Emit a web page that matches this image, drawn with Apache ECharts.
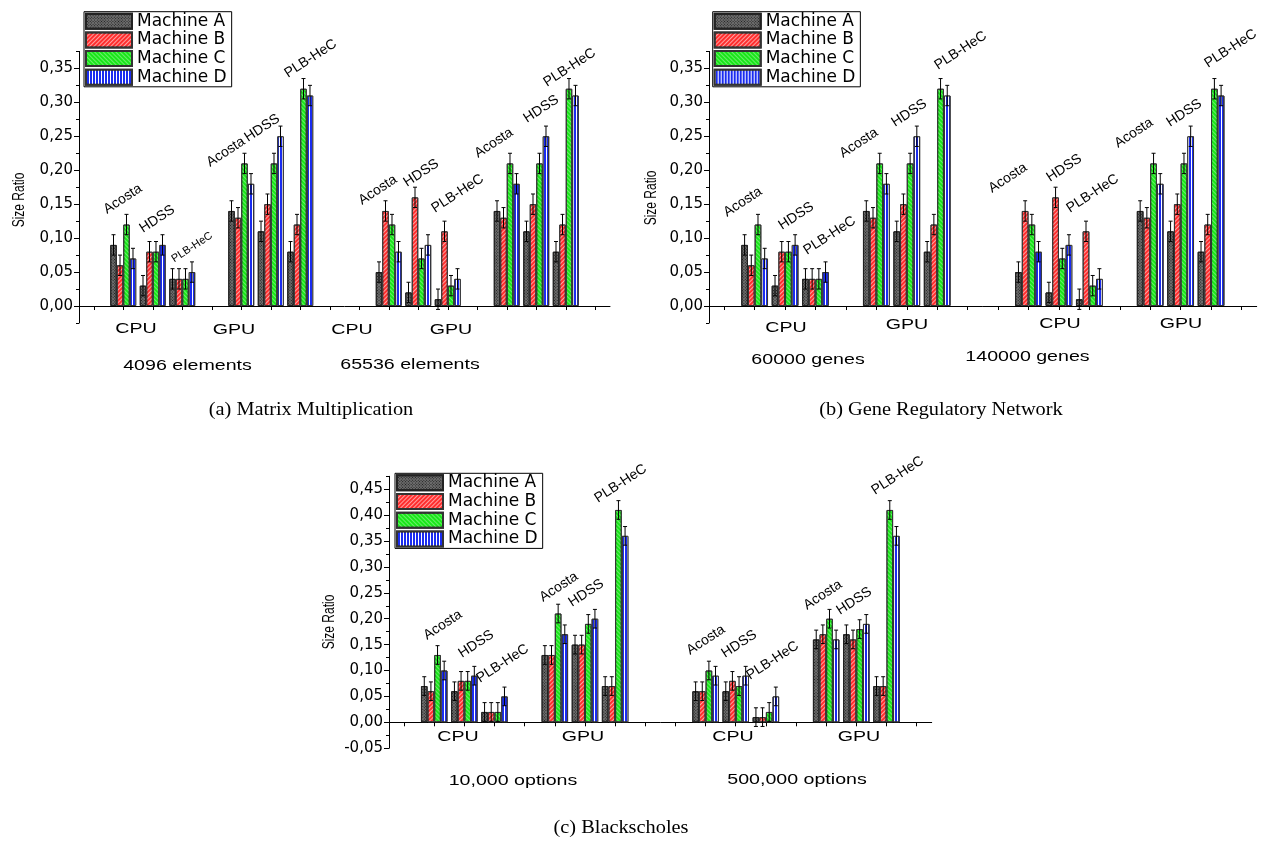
<!DOCTYPE html>
<html><head><meta charset="utf-8">
<script src="https://cdn.jsdelivr.net/npm/echarts@6/dist/echarts.min.js"></script>
<style>html,body{margin:0;padding:0;background:#fff}#c{width:1263px;height:844px}</style>
</head><body><div id="c"></div>
<script>
// ---------------- DATA ----------------
const machines = ['Machine A', 'Machine B', 'Machine C', 'Machine D'];
const algorithms = ['Acosta', 'HDSS', 'PLB-HeC'];
const devices = ['CPU', 'GPU'];

// 18 category slots per chart; groups sit at slots 1-3, 5-7, 10-12, 14-16
const slotsMM = ['g0', '4096 CPU Acosta', '4096 CPU HDSS', '4096 CPU PLB-HeC', 'g4', '4096 GPU Acosta', '4096 GPU HDSS', '4096 GPU PLB-HeC', 'g8', 'g9',
  '65536 CPU Acosta', '65536 CPU HDSS', '65536 CPU PLB-HeC', 'g13', '65536 GPU Acosta', '65536 GPU HDSS', '65536 GPU PLB-HeC', 'g17'];
const slotsGRN = ['g0', '60000 CPU Acosta', '60000 CPU HDSS', '60000 CPU PLB-HeC', 'g4', '60000 GPU Acosta', '60000 GPU HDSS', '60000 GPU PLB-HeC', 'g8', 'g9',
  '140000 CPU Acosta', '140000 CPU HDSS', '140000 CPU PLB-HeC', 'g13', '140000 GPU Acosta', '140000 GPU HDSS', '140000 GPU PLB-HeC', 'g17'];
const slotsBS = ['g0', '10000 CPU Acosta', '10000 CPU HDSS', '10000 CPU PLB-HeC', 'g4', '10000 GPU Acosta', '10000 GPU HDSS', '10000 GPU PLB-HeC', 'g8', 'g9',
  '500000 CPU Acosta', '500000 CPU HDSS', '500000 CPU PLB-HeC', 'g13', '500000 GPU Acosta', '500000 GPU HDSS', '500000 GPU PLB-HeC', 'g17'];

// (a) Matrix Multiplication
const mmA = [null, 0.09, 0.03, 0.04, null, 0.14, 0.11, 0.08, null, null, 0.05, 0.02, 0.01, null, 0.14, 0.11, 0.08, null];
const mmB = [null, 0.06, 0.08, 0.04, null, 0.13, 0.15, 0.12, null, null, 0.14, 0.16, 0.11, null, 0.13, 0.15, 0.12, null];
const mmC = [null, 0.12, 0.08, 0.04, null, 0.21, 0.21, 0.32, null, null, 0.12, 0.07, 0.03, null, 0.21, 0.21, 0.32, null];
const mmD = [null, 0.07, 0.09, 0.05, null, 0.18, 0.25, 0.31, null, null, 0.08, 0.09, 0.04, null, 0.18, 0.25, 0.31, null];
const errMM = 0.015;

// (b) Gene Regulatory Network
const grnA = [null, 0.09, 0.03, 0.04, null, 0.14, 0.11, 0.08, null, null, 0.05, 0.02, 0.01, null, 0.14, 0.11, 0.08, null];
const grnB = [null, 0.06, 0.08, 0.04, null, 0.13, 0.15, 0.12, null, null, 0.14, 0.16, 0.11, null, 0.13, 0.15, 0.12, null];
const grnC = [null, 0.12, 0.08, 0.04, null, 0.21, 0.21, 0.32, null, null, 0.12, 0.07, 0.03, null, 0.21, 0.21, 0.32, null];
const grnD = [null, 0.07, 0.09, 0.05, null, 0.18, 0.25, 0.31, null, null, 0.08, 0.09, 0.04, null, 0.18, 0.25, 0.31, null];
const errGRN = 0.015;

// (c) Blackscholes
const bsA = [null, 0.07, 0.06, 0.02, null, 0.13, 0.15, 0.07, null, null, 0.06, 0.06, 0.01, null, 0.16, 0.17, 0.07, null];
const bsB = [null, 0.06, 0.08, 0.02, null, 0.13, 0.15, 0.07, null, null, 0.06, 0.08, 0.01, null, 0.17, 0.16, 0.07, null];
const bsC = [null, 0.13, 0.08, 0.02, null, 0.21, 0.19, 0.41, null, null, 0.10, 0.07, 0.02, null, 0.20, 0.18, 0.41, null];
const bsD = [null, 0.10, 0.09, 0.05, null, 0.17, 0.20, 0.36, null, null, 0.09, 0.09, 0.05, null, 0.16, 0.19, 0.36, null];
const errBS = 0.018;

const yTicksAB = [0, 0.05, 0.10, 0.15, 0.20, 0.25, 0.30, 0.35];
const yTicksC = [-0.05, 0, 0.05, 0.10, 0.15, 0.20, 0.25, 0.30, 0.35, 0.40, 0.45];

const sizesMM = ['4096 elements', '65536 elements'];
const sizesGRN = ['60000 genes', '140000 genes'];
const sizesBS = ['10,000 options', '500,000 options'];
const captions = ['(a) Matrix Multiplication', '(b) Gene Regulatory Network', '(c) Blackscholes'];
const yTitle = 'Size Ratio';

// ---------------- LAYOUT / STYLE ----------------
const charts = [
  { slots: slotsMM, vals: [mmA, mmB, mmC, mmD], err: errMM, yMin: -0.025, yMax: 0.375, ticks: yTicksAB,
    grid: { left: 79, top: 51.4, width: 531, height: 271.6 }, legend: { left: 84, top: 11.7 },
    sizes: sizesMM, devPos: [[136, 329], [234, 330], [352, 330], [451, 330]], sizePos: [[187.5, 366], [410, 365]],
    titlePos: [19, 200], capPos: [311, 410],
    annot: [[107,214,14],[143,233,14],[174,262,11],[210,167,14],[248,142,14],[288,78,14],[362,205,14],[407,187,14],[435,213,14],[478,158,14],[527,123,14],[547,87,14]] },
  { slots: slotsGRN, vals: [grnA, grnB, grnC, grnD], err: errGRN, yMin: -0.025, yMax: 0.375, ticks: yTicksAB,
    grid: { left: 709, top: 51.4, width: 547.7, height: 271.6 }, legend: { left: 712.7, top: 11.7 },
    sizes: sizesGRN, devPos: [[786, 328], [907, 325], [1060, 324], [1181, 324]], sizePos: [[808, 360], [1027.5, 357]],
    titlePos: [651, 198], capPos: [941, 410],
    annot: [[727,217,14],[782,230,14],[807,255,14],[843,158,14],[895,127,14],[938,70,14],[992,193,14],[1050,182,14],[1070,213,14],[1118,148,14],[1170,127,14],[1208,68,14]] },
  { slots: slotsBS, vals: [bsA, bsB, bsC, bsD], err: errBS, yMin: -0.05, yMax: 0.475, ticks: yTicksC,
    grid: { left: 389, top: 476.3, width: 542.7, height: 271.9 }, legend: { left: 395, top: 473.3 },
    sizes: sizesBS, devPos: [[458, 737], [583, 737], [733, 737], [859, 737]], sizePos: [[513, 781], [797, 780]],
    titlePos: [329, 622], capPos: [621, 828],
    annot: [[427,640,14],[462,658,14],[480,683,14],[543,602,14],[572,607,14],[598,503,14],[690,655,14],[725,658,14],[750,680,14],[807,610,14],[840,615,14],[875,495,14]] }
];

const machineStyles = [
  { color: '#6e6e6e', borderColor: '#222', borderWidth: 1,
    decal: { symbol: 'rect', symbolSize: 1, color: '#1c1c1c', dashArrayX: [1, 1], dashArrayY: [1, 1], rotation: Math.PI / 4 } },
  { color: '#ff2e2e', borderColor: '#333', borderWidth: 1,
    decal: { symbol: 'rect', symbolSize: 1, color: 'rgba(255,255,255,0.55)', dashArrayX: [1, 0], dashArrayY: [1, 1.5], rotation: -Math.PI / 4 } },
  { color: '#19e619', borderColor: '#333', borderWidth: 1,
    decal: { symbol: 'rect', symbolSize: 1, color: 'rgba(255,255,255,0.35)', dashArrayX: [1, 0], dashArrayY: [1, 1.5], rotation: Math.PI / 4 } },
  { color: '#1a2cf0', borderColor: '#333', borderWidth: 1,
    decal: { symbol: 'rect', symbolSize: 1, color: '#ffffff', dashArrayX: [1, 2], dashArrayY: [1, 0], rotation: 0 } }
];

const CAT_GAP = 0.12;
const fmt = v => v.toFixed(2).replace('.', ',');

const grids = [], xAxes = [], yAxes = [], series = [], legends = [], graphics = [];

function txt(text, x, y, o) {
  return {
    type: 'text', x: x, y: y, rotation: o.rotation || 0, scaleX: o.scaleX || 1, scaleY: o.scaleY || 1, silent: true, z: 100,
    style: { text: text, x: o.dx || 0, y: o.dy || 0, fontSize: o.size, fontFamily: o.family || '"Liberation Sans", Arial, sans-serif',
      fill: '#000', align: o.align || 'center', verticalAlign: o.valign || 'middle',
      textAlign: o.align || 'center', textVerticalAlign: o.valign || 'middle' }
  };
}

charts.forEach((c, gi) => {
  grids.push(Object.assign({ containLabel: false }, c.grid));
  xAxes.push({
    type: 'category', gridIndex: gi, data: c.slots, boundaryGap: true,
    axisLine: { onZero: true, lineStyle: { color: '#000', width: 1 } },
    axisTick: { show: true, alignWithLabel: true, interval: 0, length: 4, lineStyle: { color: '#000' } },
    axisLabel: { show: false }, splitLine: { show: false }
  });
  yAxes.push({
    type: 'value', gridIndex: gi, min: c.yMin, max: c.yMax, interval: 0.025, position: 'left',
    axisLine: { show: true, lineStyle: { color: '#000', width: 1 } },
    axisTick: { show: true, length: 5, customValues: c.ticks, lineStyle: { color: '#000' } },
    axisLabel: { show: true, customValues: c.ticks, formatter: fmt, margin: 6, color: '#000', fontSize: 15, fontFamily: '"DejaVu Sans", sans-serif' },
    splitLine: { show: false }
  });
  yAxes.push({
    type: 'value', gridIndex: gi, min: c.yMin, max: c.yMax, interval: 0.025, position: 'left', offset: 0,
    axisLine: { show: false }, axisTick: { show: true, length: 3, lineStyle: { color: '#000' } },
    axisLabel: { show: false }, splitLine: { show: false }
  });
  const yIdx = gi * 2;
  c.vals.forEach((vals, m) => {
    series.push({
      type: 'bar', name: machines[m], xAxisIndex: gi, yAxisIndex: yIdx, data: vals,
      barGap: '0%', barCategoryGap: (CAT_GAP * 100) + '%', itemStyle: machineStyles[m], z: 2,
      emphasis: { disabled: true }
    });
    const err = c.err;
    series.push({
      type: 'custom', name: machines[m] + ' error', xAxisIndex: gi, yAxisIndex: yIdx, z: 5, silent: true, clip: false,
      data: vals.map((v, i) => v == null ? null : [i, v]).filter(Boolean),
      encode: { x: 0, y: 1 },
      renderItem: function (params, api) {
        const cat = api.value(0), v = api.value(1);
        const band = api.size([1, 0])[0];
        const gw = band * (1 - CAT_GAP), bw = gw / 4;
        const cx = api.coord([cat, v])[0] - gw / 2 + (m + 0.5) * bw;
        const yt = api.coord([cat, v + err])[1], yb = api.coord([cat, v - err])[1];
        const st = { stroke: '#000', lineWidth: 1 };
        return { type: 'group', children: [
          { type: 'line', shape: { x1: cx, y1: yt, x2: cx, y2: yb }, style: st },
          { type: 'line', shape: { x1: cx - 2, y1: yt, x2: cx + 2, y2: yt }, style: st },
          { type: 'line', shape: { x1: cx - 2, y1: yb, x2: cx + 2, y2: yb }, style: st }
        ] };
      }
    });
  });
  legends.push({
    data: machines, left: c.legend.left, top: c.legend.top, orient: 'vertical', icon: 'rect',
    itemWidth: 46, itemHeight: 15, itemGap: 1.7, padding: [1, 5, 1, 1],
    borderColor: '#000', borderWidth: 1, backgroundColor: '#fff', selectedMode: false,
    textStyle: { color: '#000', fontSize: 17, lineHeight: 15, fontFamily: '"DejaVu Sans", sans-serif' }
  });
  // annotations
  c.annot.forEach((p, k) => {
    graphics.push(txt(algorithms[k % 3], p[0], p[1], { size: p[2], rotation: 33 * Math.PI / 180, align: 'left', valign: 'bottom', dy: 3 }));
  });
  c.devPos.forEach((p, k) => graphics.push(txt(devices[k % 2], p[0], p[1], { size: 14, scaleX: 1.4 })));
  c.sizePos.forEach((p, k) => graphics.push(txt(c.sizes[k], p[0], p[1], { size: 14, scaleX: 1.4 })));
  graphics.push(txt(yTitle, c.titlePos[0], c.titlePos[1], { size: 12, rotation: Math.PI / 2, scaleY: 1.4 }));
  graphics.push(txt(captions[gi], c.capPos[0], c.capPos[1], { size: 18, scaleX: 1.13, family: '"Liberation Serif", "Times New Roman", serif' }));
});

const chart = echarts.init(document.getElementById('c'), null, { renderer: 'canvas' });
chart.setOption({
  backgroundColor: '#fff',
  animation: false,
  grid: grids, xAxis: xAxes, yAxis: yAxes, series: series, legend: legends,
  graphic: { elements: graphics }
});
</script></body></html>
